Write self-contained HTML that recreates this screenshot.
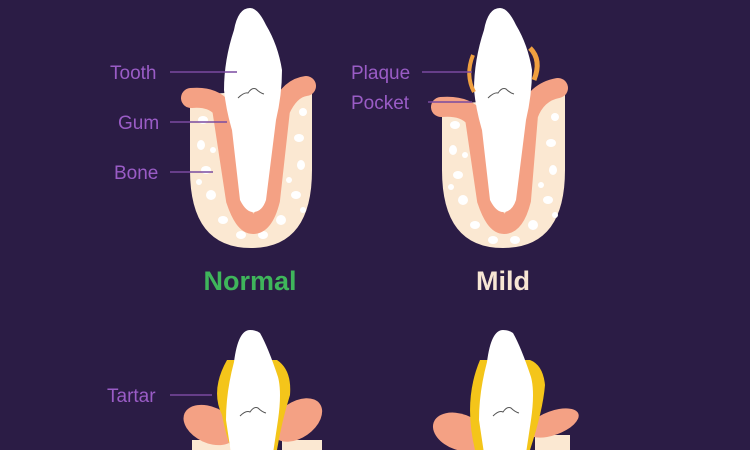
<!DOCTYPE html>
<html><head><style>
html,body{margin:0;padding:0;background:#2b1c45;}
svg{display:block}
text{font-family:"Liberation Sans",sans-serif;}
</style></head><body>
<svg width="750" height="450" viewBox="0 0 750 450" xmlns="http://www.w3.org/2000/svg">
<rect width="750" height="450" fill="#2b1c45"/>
<defs>
<g id="dots" fill="#fff">
  <ellipse cx="-48" cy="20" rx="5" ry="4"/><ellipse cx="-50" cy="45" rx="4" ry="5"/>
  <ellipse cx="-45" cy="70" rx="5" ry="4"/><ellipse cx="-40" cy="95" rx="5" ry="5"/>
  <ellipse cx="-28" cy="120" rx="5" ry="4"/><ellipse cx="-10" cy="135" rx="5" ry="4"/>
  <ellipse cx="12" cy="135" rx="5" ry="4"/><ellipse cx="30" cy="120" rx="5" ry="5"/>
  <ellipse cx="45" cy="95" rx="5" ry="4"/><ellipse cx="50" cy="65" rx="4" ry="5"/>
  <ellipse cx="48" cy="38" rx="5" ry="4"/><ellipse cx="52" cy="12" rx="4" ry="4"/>
  <ellipse cx="-38" cy="50" rx="3" ry="3"/><ellipse cx="38" cy="80" rx="3" ry="3"/>
  <ellipse cx="-52" cy="82" rx="3" ry="3"/><ellipse cx="52" cy="110" rx="3" ry="3"/>
</g>
<path id="tooth" d="M0,0 Q-12,0 -16,22 Q-26,52 -26,82 Q-24,102 -18,122 L-10,192 Q-4,204 3,204 Q12,204 16,192 L26,112 Q32,87 32,62 Q28,37 16,17 Q8,0 0,0 Z" fill="#fff"/>
</defs>

<!-- Normal -->
<path d="M190,95 L190,170 Q190,248 251,248 Q312,248 312,170 L312,88 Z" fill="#fbe8d2"/>
<g transform="translate(251,100)"><use href="#dots"/></g>
<path d="M191,98 Q212,96 222,108 L236,200 Q244,224 253,224 Q264,224 270,200 L280,110 Q290,88 306,86" stroke="#f4a184" stroke-width="20" stroke-linecap="round" fill="none"/>
<g transform="translate(250,8)"><use href="#tooth"/></g>
<path d="M238,98 Q244,92 248,93 Q252,87 256,89 Q260,93 264,94" stroke="#555" stroke-width="1" fill="none"/>
<g fill="#9a5cc6" font-size="19">
<text x="110" y="79">Tooth</text>
<text x="118" y="129">Gum</text>
<text x="114" y="179">Bone</text>
</g>
<g stroke="#7a4aa0" stroke-width="1.5">
<line x1="170" y1="72" x2="237" y2="72"/>
<line x1="170" y1="122" x2="227" y2="122"/>
<line x1="170" y1="172" x2="213" y2="172"/>
</g>
<text x="250" y="290" text-anchor="middle" font-size="27" font-weight="bold" fill="#3fb55b">Normal</text>

<!-- Mild -->
<path d="M442,105 L442,170 Q442,248 503,248 Q565,248 565,170 L565,95 Z" fill="#fbe8d2"/>
<g transform="translate(503,105)"><use href="#dots"/></g>
<path d="M441,107 Q465,105 475,118 L487,200 Q495,224 504,224 Q515,224 521,200 L528,115 Q536,92 558,88" stroke="#f4a184" stroke-width="20" stroke-linecap="round" fill="none"/>
<g transform="translate(500,8)"><use href="#tooth"/></g>
<path d="M473,55 Q465,75 474,92" stroke="#f0a040" stroke-width="4" fill="none"/>
<path d="M530,48 Q542,60 534,80" stroke="#f0a040" stroke-width="5" fill="none"/>
<path d="M488,98 Q494,92 498,93 Q502,87 506,89 Q510,93 514,94" stroke="#555" stroke-width="1" fill="none"/>
<g fill="#9a5cc6" font-size="19">
<text x="351" y="79">Plaque</text>
<text x="351" y="109">Pocket</text>
</g>
<g stroke="#7a4aa0" stroke-width="1.5">
<line x1="422" y1="72" x2="472" y2="72"/>
<line x1="428" y1="102" x2="472" y2="102"/>
</g>
<text x="503" y="290" text-anchor="middle" font-size="27" font-weight="bold" fill="#f7e6d4">Mild</text>

<!-- Bottom row -->
<g transform="translate(252,420)">
  <rect x="-60" y="20" width="40" height="20" fill="#fbe8d2"/>
  <rect x="30" y="20" width="40" height="20" fill="#fbe8d2"/>
  <ellipse cx="-42" cy="5" rx="28" ry="18" fill="#f4a184" transform="rotate(25 -42 5)"/>
  <ellipse cx="45" cy="0" rx="28" ry="18" fill="#f4a184" transform="rotate(-35 45 0)"/>
  <path d="M-25,-60 Q-42,-30 -30,-5 Q-25,20 -20,30 L25,30 Q30,0 38,-25 Q40,-50 25,-60 Z" fill="#f4c51a"/>
  <path d="M-2,-90 Q-14,-90 -18,-58 Q-26,-28 -26,0 L-20,40 L20,40 L26,0 Q30,-28 26,-43 Q16,-73 8,-87 Q4,-90 -2,-90 Z" fill="#fff"/>
  <path d="M-12,-4 Q-6,-10 -2,-8 Q2,-14 6,-12 Q10,-8 14,-7" stroke="#555" stroke-width="1" fill="none"/>
</g>
<text x="107" y="402" fill="#9a5cc6" font-size="19">Tartar</text>
<line x1="170" y1="395" x2="212" y2="395" stroke="#7a4aa0" stroke-width="1.5"/>
<g transform="translate(505,420)">
  <rect x="30" y="15" width="35" height="25" fill="#fbe8d2"/>
  <ellipse cx="-45" cy="12" rx="28" ry="18" fill="#f4a184" transform="rotate(20 -45 12)"/>
  <ellipse cx="48" cy="3" rx="27" ry="12" fill="#f4a184" transform="rotate(-20 48 3)"/>
  <path d="M-25,-60 Q-42,-20 -30,30 L25,30 Q38,-10 40,-35 Q38,-55 25,-60 Z" fill="#f4c51a"/>
  <path d="M-2,-90 Q-14,-90 -18,-58 Q-26,-28 -26,0 L-20,40 L20,40 L26,0 Q30,-28 26,-43 Q16,-73 8,-87 Q4,-90 -2,-90 Z" fill="#fff"/>
  <path d="M-12,-4 Q-6,-10 -2,-8 Q2,-14 6,-12 Q10,-8 14,-7" stroke="#555" stroke-width="1" fill="none"/>
</g>
</svg>
</body></html>
